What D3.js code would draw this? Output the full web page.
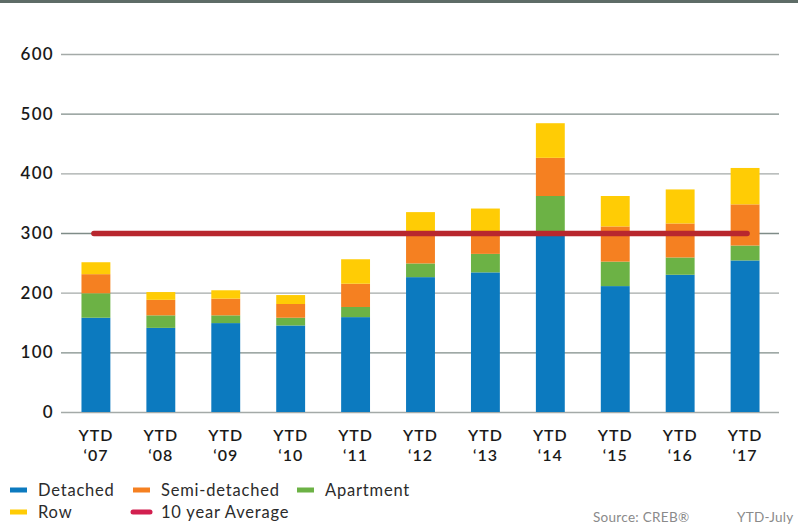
<!DOCTYPE html>
<html>
<head>
<meta charset="utf-8">
<script src="https://cdn.jsdelivr.net/npm/d3@7"></script>
<style>
  body { margin: 0; background: #fff; }
  svg { display: block; font-family: Lato, "Open Sans", sans-serif; }
</style>
</head>
<body>
<svg id="chart"></svg>
<script>
const W = 798, H = 525;

// data
const years = ["‘07", "‘08", "‘09", "‘10", "‘11", "‘12", "‘13", "‘14", "‘15", "‘16", "‘17"];
const detached = [158, 141, 149, 145, 159, 226, 234, 297, 211, 230, 254];
const apartment = [41, 21, 13, 13, 17, 23, 31, 65, 41, 29, 25];
const semiDetached = [32, 26, 28, 23, 39, 53, 35, 64, 59, 57, 69];
const row = [20, 13, 14, 15, 41, 33, 41, 58, 51, 57, 61];
const tenYearAvg = 299;
const yTicks = [0, 100, 200, 300, 400, 500, 600];

const series = [
    { key: "detached", name: "Detached", values: detached, color: "#0c7abf" },
    { key: "apartment", name: "Apartment", values: apartment, color: "#6cb245" },
    { key: "semi", name: "Semi-detached", values: semiDetached, color: "#f58021" },
    { key: "row", name: "Row", values: row, color: "#ffcc05" }
];

const svg = d3.select("#chart").attr("width", W).attr("height", H);

// dark band along the top
svg.append("rect").attr("x", 0).attr("y", 0).attr("width", W).attr("height", 3).attr("fill", "#5e6c67");

const x = d3.scaleBand()
    .domain(years)
    .range([62, 779])
    .paddingInner(0.555)
    .paddingOuter(0.3);

const y = d3.scaleLinear().domain([0, 600]).range([412, 54]);

// grid lines
svg.append("g")
    .selectAll("line")
    .data(yTicks)
    .enter().append("line")
    .attr("x1", 61)
    .attr("x2", 779)
    .attr("y1", d => y(d) + 0.5)
    .attr("y2", d => y(d) + 0.5)
    .attr("stroke", (d, i) => i % 2 ? "#7f8c88" : "#a4aaa8")
    .attr("stroke-width", 1.3);

// y labels
svg.append("g")
    .selectAll("text")
    .data(yTicks)
    .enter().append("text")
    .attr("x", 54)
    .attr("y", d => y(d))
    .attr("dy", "0.36em")
    .attr("text-anchor", "end")
    .style("font-size", "17px")
    .style("font-weight", "600")
    .style("letter-spacing", "1.3px")
    .style("fill", "#1a1a1a")
    .text(d => d);

// stacked bars
const stackData = years.map((yr, i) => {
    const o = { year: yr };
    series.forEach(s => o[s.key] = s.values[i]);
    return o;
});
const stack = d3.stack().keys(series.map(s => s.key));
const stacked = stack(stackData);

svg.append("g")
    .selectAll("g")
    .data(stacked)
    .enter().append("g")
    .attr("fill", (d, i) => series[i].color)
    .selectAll("rect")
    .data(d => d)
    .enter().append("rect")
    .attr("x", d => x(d.data.year))
    .attr("width", x.bandwidth())
    .attr("y", d => y(d[1]))
    .attr("height", d => y(d[0]) - y(d[1]));

// 10 year average
svg.append("line")
    .attr("x1", x(years[0]) + x.bandwidth() / 2 - 2)
    .attr("x2", x(years[years.length - 1]) + x.bandwidth() / 2 + 2)
    .attr("y1", y(tenYearAvg))
    .attr("y2", y(tenYearAvg))
    .attr("stroke", "#b8272e")
    .attr("stroke-width", 5.5)
    .attr("stroke-linecap", "round");

// x labels, two lines each
const xl = svg.append("g")
    .selectAll("g")
    .data(years)
    .enter().append("g")
    .attr("transform", d => `translate(${x(d) + x.bandwidth() / 2},0)`)
    .attr("text-anchor", "middle")
    .style("font-size", "16px")
    .style("font-weight", "600")
    .style("letter-spacing", "1px")
    .style("fill", "#1a1a1a");
xl.append("text").attr("y", 441).text("YTD");
xl.append("text").attr("y", 461).text(d => d);

// legend
const legendItems = [
    { name: "Detached", color: "#0c7abf", x: 10, y: 490, line: false },
    { name: "Semi-detached", color: "#f58021", x: 133, y: 490, line: false },
    { name: "Apartment", color: "#6cb245", x: 297, y: 490, line: false },
    { name: "Row", color: "#ffcc05", x: 10, y: 512, line: false },
    { name: "10 year Average", color: "#d21f4f", x: 131, y: 512, line: true }
];
const lg = svg.append("g")
    .selectAll("g")
    .data(legendItems)
    .enter().append("g")
    .attr("transform", d => `translate(${d.x},${d.y})`);
lg.filter(d => !d.line).append("rect")
    .attr("x", 0).attr("y", -2.5)
    .attr("width", 17).attr("height", 5)
    .attr("fill", d => d.color);
lg.filter(d => d.line).append("line")
    .attr("x1", 2).attr("x2", 19)
    .attr("stroke", d => d.color)
    .attr("stroke-width", 5)
    .attr("stroke-linecap", "round");
lg.append("text")
    .attr("x", d => d.line ? 30 : 28)
    .attr("dy", "0.36em")
    .style("font-size", "16.5px")
    .style("letter-spacing", "0.8px")
    .style("fill", "#2b2b2b")
    .text(d => d.name);

// source notes
svg.append("text")
    .attr("x", 593).attr("y", 522)
    .style("font-size", "13.5px")
    .style("letter-spacing", "0.3px")
    .style("fill", "#8a8a8a")
    .text("Source: CREB®");
svg.append("text")
    .attr("x", 737).attr("y", 522)
    .style("font-size", "13.5px")
    .style("letter-spacing", "0.3px")
    .style("fill", "#8a8a8a")
    .text("YTD-July");
</script>
</body>
</html>
